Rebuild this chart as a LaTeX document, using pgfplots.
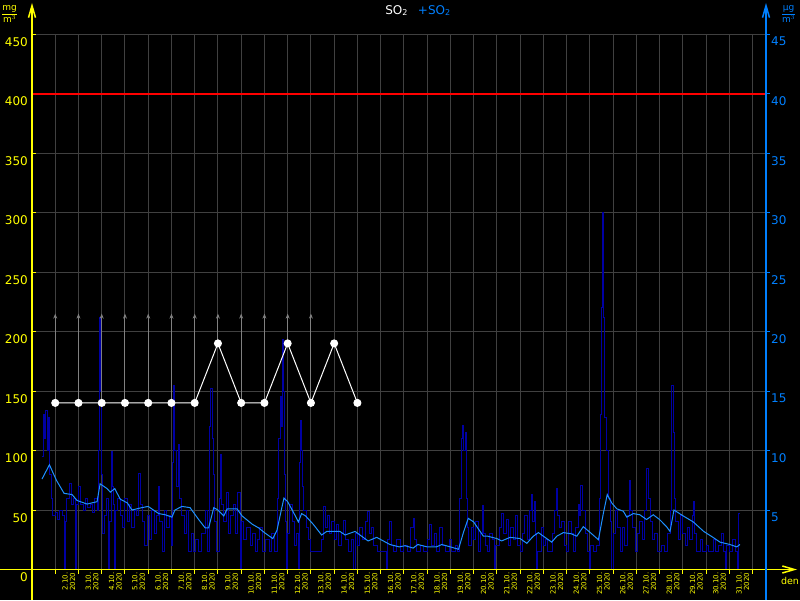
\documentclass[border=0pt]{standalone}
\usepackage{pgfplots}
\pgfplotsset{compat=1.18}
\usepackage{amsmath}
\usepackage{fontspec}
\setmainfont{DejaVu Sans}
\usetikzlibrary{arrows.meta}
\definecolor{ybl}{RGB}{255,255,0}
\definecolor{rblue}{RGB}{0,128,255}
\definecolor{dblue}{RGB}{0,0,165}
\definecolor{sblue}{RGB}{30,144,255}
\definecolor{gridc}{RGB}{64,64,64}
\definecolor{arrc}{RGB}{128,128,128}
\begin{document}
\begin{tikzpicture}[x=1pt,y=1pt]
\useasboundingbox (-32,-30.5) rectangle (768,569.5);
\fill[black] (-32,-30.5) rectangle (768,569.5);
\clip (-32,-30.5) rectangle (768,569.5);
\begin{axis}[
  at={(0,0)}, anchor=south west, scale only axis,
  width=734pt, height=535.5pt,
  xmin=0, xmax=31.58, ymin=0, ymax=450,
  clip=false,
  axis line style={draw=none},
  xtick={1,...,31}, ytick={0,50,...,450},
  xtick pos=bottom, ytick pos=left,
  grid=major, major grid style={gridc, line width=1pt},
  xtick align=outside, ytick align=inside,
  major tick length=4pt,
  tick style={ybl, line width=1pt},
  /pgf/number format/assume math mode=true,
  yticklabel style={ybl, font=\fontsize{12}{12}\selectfont, anchor=north east, inner sep=0pt, xshift=-4pt, yshift=-3pt},
  xticklabels={{2.10.\\2020},{3.10.\\2020},{4.10.\\2020},{5.10.\\2020},{6.10.\\2020},{7.10.\\2020},{8.10.\\2020},{9.10.\\2020},{10.10.\\2020},{11.10.\\2020},{12.10.\\2020},{13.10.\\2020},{14.10.\\2020},{15.10.\\2020},{16.10.\\2020},{17.10.\\2020},{18.10.\\2020},{19.10.\\2020},{20.10.\\2020},{21.10.\\2020},{22.10.\\2020},{23.10.\\2020},{24.10.\\2020},{25.10.\\2020},{26.10.\\2020},{27.10.\\2020},{28.10.\\2020},{29.10.\\2020},{30.10.\\2020},{31.10.\\2020},{}},
  xticklabel style={ybl, font=\fontsize{7}{7.5}\selectfont, inner sep=0pt, align=right, xshift=7pt, yshift=1pt, rotate=90, anchor=north east},
]
% hourly values (dark blue)
\addplot[const plot, dblue, line width=1pt] coordinates {
(0.42,95) (0.5,130) (0.55,110) (0.6,134) (0.66,100) (0.7,128) (0.75,80) (0.83,60) (0.9,45) (1.0,48) (1.1,42) (1.2,50) (1.3,45) (1.38,0) (1.42,40) (1.5,60) (1.6,72) (1.7,55) (1.8,60) (1.86,0) (1.9,55) (2.0,70) (2.1,55) (2.2,50) (2.3,60) (2.4,52) (2.5,55) (2.6,48) (2.7,60) (2.8,50) (2.88,100) (2.92,212) (2.96,150) (3.0,80) (3.05,30) (3.1,45) (3.2,60) (3.28,0) (3.32,40) (3.4,99) (3.45,70) (3.5,55) (3.55,0) (3.6,50) (3.7,60) (3.8,45) (3.9,35) (4.0,60) (4.1,40) (4.2,55) (4.3,35) (4.4,50) (4.5,45) (4.6,81) (4.65,55) (4.75,40) (4.85,20) (4.95,45) (5.05,25) (5.15,50) (5.25,30) (5.35,45) (5.45,70) (5.5,40) (5.6,15) (5.7,50) (5.8,35) (5.9,45) (6.0,20) (6.05,90) (6.1,155) (6.15,100) (6.2,70) (6.3,105) (6.35,60) (6.45,45) (6.55,30) (6.65,50) (6.75,15) (6.85,30) (6.95,15) (7.05,25) (7.15,15) (7.3,30) (7.45,50) (7.55,15) (7.65,120) (7.7,152) (7.75,110) (7.8,80) (7.85,40) (7.95,15) (8.05,60) (8.1,97) (8.15,55) (8.25,40) (8.35,65) (8.45,30) (8.55,45) (8.65,55) (8.75,30) (8.85,65) (8.95,0) (9.0,40) (9.1,25) (9.25,35) (9.4,20) (9.5,30) (9.6,15) (9.7,25) (9.8,35) (9.9,15) (10.05,25) (10.2,15) (10.3,30) (10.45,15) (10.55,60) (10.62,110) (10.68,145) (10.73,120) (10.78,193) (10.82,150) (10.87,80) (10.92,40) (10.96,0) (11.0,30) (11.1,55) (11.2,40) (11.3,20) (11.4,30) (11.47,0) (11.52,90) (11.56,125) (11.6,100) (11.65,70) (11.7,50) (11.8,35) (11.9,25) (12.0,15) (12.45,25) (12.55,53) (12.62,35) (12.7,45) (12.8,30) (12.9,40) (13.0,25) (13.1,38) (13.2,20) (13.3,30) (13.4,41) (13.5,25) (13.6,15) (13.75,25) (13.85,0) (13.9,30) (14.0,20) (14.1,35) (14.2,25) (14.35,40) (14.45,49) (14.5,30) (14.6,35) (14.7,20) (14.85,15) (15.25,0) (15.3,25) (15.4,40) (15.45,20) (15.55,15) (15.7,25) (15.85,15) (16.0,20) (16.15,15) (16.3,35) (16.4,43) (16.45,25) (16.55,15) (16.7,20) (16.85,15) (17.0,25) (17.1,38) (17.2,20) (17.3,30) (17.4,15) (17.55,35) (17.65,20) (17.8,15) (17.95,25) (18.05,15) (18.2,20) (18.3,15) (18.4,60) (18.48,110) (18.53,121) (18.58,100) (18.63,115) (18.7,60) (18.75,35) (18.8,20) (18.9,35) (19.0,25) (19.1,40) (19.2,15) (19.3,30) (19.38,54) (19.42,30) (19.5,20) (19.6,15) (19.7,30) (19.8,25) (19.9,0) (19.95,20) (20.1,35) (20.2,47) (20.3,30) (20.4,42) (20.5,20) (20.6,35) (20.7,25) (20.8,45) (20.9,20) (21.0,15) (21.1,30) (21.2,45) (21.3,25) (21.4,50) (21.5,63) (21.55,40) (21.6,57) (21.65,30) (21.72,0) (21.76,15) (21.9,35) (22.0,20) (22.1,25) (22.2,15) (22.4,30) (22.5,50) (22.55,68) (22.6,45) (22.7,35) (22.8,40) (22.9,20) (23.0,15) (23.1,40) (23.2,30) (23.3,15) (23.4,35) (23.5,55) (23.55,45) (23.62,71) (23.7,50) (23.8,30) (23.9,15) (24.0,0) (24.05,20) (24.15,15) (24.3,20) (24.4,60) (24.45,130) (24.5,220) (24.55,300) (24.6,212) (24.65,128) (24.7,100) (24.8,60) (24.9,40) (24.95,0) (25.0,30) (25.1,50) (25.2,35) (25.3,15) (25.4,35) (25.5,20) (25.6,45) (25.7,75) (25.75,50) (25.85,35) (25.95,15) (26.05,30) (26.15,40) (26.25,25) (26.35,50) (26.45,85) (26.52,60) (26.6,40) (26.7,25) (26.8,30) (26.9,15) (27.1,20) (27.2,15) (27.35,30) (27.45,50) (27.5,130) (27.53,155) (27.58,115) (27.63,60) (27.7,40) (27.8,25) (27.9,45) (28.0,30) (28.1,20) (28.2,35) (28.3,25) (28.4,45) (28.45,57) (28.5,30) (28.6,15) (28.75,25) (28.85,15) (29.0,20) (29.1,15) (29.3,25) (29.4,15) (29.55,20) (29.65,30) (29.75,15) (29.85,0) (29.9,20) (30.0,15) (30.15,25) (30.25,15) (30.35,0) (30.4,47) (30.46,47)
};
% smoothed (light blue)
\addplot[sblue, line width=1pt] coordinates {
(0.43,76) (0.75,88) (1.05,75) (1.38,64) (1.72,63) (1.94,58) (2.37,55) (2.8,57) (2.93,72) (3.23,68) (3.37,65) (3.56,68) (3.8,59) (4.1,56) (4.3,50) (4.73,52) (5.0,53) (5.45,47) (5.73,46) (6.02,44) (6.15,50) (6.45,53) (6.8,52) (7.17,42) (7.45,35) (7.6,35) (7.82,52) (8.0,50) (8.25,45) (8.4,51) (8.82,51) (9.04,45) (9.48,38) (9.75,35) (10.0,31) (10.36,26) (10.54,33) (10.76,53) (10.84,60) (11.0,57) (11.25,48) (11.46,40) (11.6,47) (11.77,45) (12.1,38) (12.46,29) (12.68,32) (13.25,32) (13.47,29) (13.9,32) (14.46,24) (14.83,27) (15.4,21) (15.8,19) (16.05,20) (16.4,18) (16.6,21) (17.0,19) (17.4,19) (17.63,21) (18.0,19) (18.35,17) (18.56,31) (18.77,43) (19.0,40) (19.42,28) (19.6,28) (20.0,26) (20.2,24) (20.57,27) (21.0,26) (21.29,22) (21.57,28) (21.79,31) (22.0,28) (22.36,23) (22.58,28) (22.86,31) (23.2,30) (23.44,28) (23.72,36) (24.08,30) (24.37,25) (24.58,47) (24.75,63) (24.94,56) (25.16,51) (25.44,49) (25.59,44) (25.87,47) (26.15,46) (26.44,42) (26.73,46) (27.0,42) (27.3,36) (27.45,32) (27.62,50) (28.02,45) (28.45,40) (28.9,32) (29.3,27) (29.6,23) (30.03,21) (30.32,19) (30.46,21)
};
% limit line
\addplot[red, line width=2pt] coordinates {(0,400) (31.58,400)};
% arrows
\addplot[arrc, line width=1pt, -{Stealth[length=5pt,width=4pt]}, quiver={u=\thisrow{u}, v=\thisrow{v}}] table[row sep=\\] {
x y u v \\
1 140 0 75 \\ 2 140 0 75 \\ 3 140 0 75 \\ 4 140 0 75 \\ 5 140 0 75 \\ 6 140 0 75 \\
7 140 0 75 \\ 8 190 0 25 \\ 9 140 0 75 \\ 10 140 0 75 \\ 11 190 0 25 \\ 12 140 0 75 \\
};
% white series
\addplot[white, line width=1pt, mark=*, mark size=3.5pt, mark options={fill=white}] coordinates {
(1,140) (2,140) (3,140) (4,140) (5,140) (6,140) (7,140) (8,190) (9,140) (10,140) (11,190) (12,140) (13,190) (14,140)
};
\end{axis}
\begin{axis}[
  at={(0,0)}, anchor=south west, scale only axis,
  width=734pt, height=535.5pt,
  xmin=0, xmax=31.58, ymin=0, ymax=45,
  axis line style={draw=none},
  hide x axis, axis y line*=right,
  ytick={5,10,...,45},
  ytick align=outside, major tick length=4pt,
  tick style={rblue, line width=1pt},
  /pgf/number format/assume math mode=true,
  yticklabel style={rblue, font=\fontsize{12}{12}\selectfont, anchor=north west, inner sep=0pt, xshift=1pt, yshift=-3pt},
]
\addplot[draw=none] coordinates {(1,1)};
\end{axis}
% axis lines
\draw[ybl, line width=1.5pt, -{Straight Barb[length=12pt,width=7pt]}] (0,-30.5) -- (0,566.5);
\draw[ybl, line width=1.5pt, -{Straight Barb[length=12pt,width=7pt]}] (-32,0) -- (765,0);
\draw[rblue, line width=1.5pt, -{Straight Barb[length=12pt,width=7pt]}] (734,-30.5) -- (734,566.5);
% units and title
\node[ybl, inner sep=0pt, font=\fontsize{9}{9}\selectfont] at (-22.5,555.5) {$\dfrac{\text{mg}}{\text{m}^{3}}$};
\node[rblue, inner sep=0pt, font=\fontsize{9}{9}\selectfont] at (756.5,555.5) {$\dfrac{\text{\textmu g}}{\text{m}^{3}}$};
\node[inner sep=0pt, font=\fontsize{12}{12}\selectfont] at (386,559) {\textcolor{white}{SO\textsubscript{2}}\hspace{10pt}\textcolor{rblue}{+SO\textsubscript{2}}};
\node[ybl, inner sep=0pt, font=\fontsize{9.5}{9.5}\selectfont] at (758,-11) {den};
\end{tikzpicture}
\end{document}
